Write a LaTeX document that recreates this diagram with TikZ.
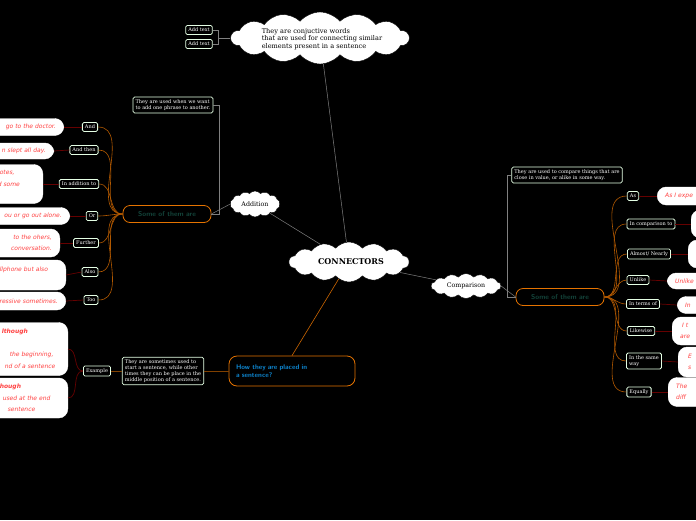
\documentclass[tikz,border=0pt]{standalone}
\usepackage{fontspec}
\setmainfont{DejaVu Serif}
\newfontfamily\comic{DejaVu Sans}
\usetikzlibrary{shapes.symbols}
\definecolor{hubtext}{RGB}{20,70,60}
\begin{document}
\begin{tikzpicture}[x=1pt,y=-1pt,
 lab/.style={draw=green!10!white,line width=0.8pt,fill=black,text=white,rounded corners=1.5pt,font=\fontsize{5}{5.8}\selectfont,inner sep=2.6pt,align=left},
 wb/.style={draw=white,fill=white,rounded corners=9pt,text=red!75!white,font=\comic\itshape\fontsize{6}{11.5}\selectfont,inner sep=2pt,inner xsep=8pt},
 wl/.style={wb,align=right,anchor=east,text width=90pt},
 wr/.style={wb,align=left,anchor=west},
 som/.style={draw=orange!90!black,line width=0.8pt,rounded corners=7pt,fill=black,text=hubtext,font=\sffamily\bfseries\fontsize{7}{8}\selectfont,minimum width=88pt,minimum height=17pt},
 cl/.style={cloud,cloud puffs=14,cloud puff arc=100,draw=black,fill=white,aspect=3,inner sep=0pt},
 fan/.style={draw=orange!70!black,line width=0.6pt},
 red/.style={draw=red!40!black,line width=0.7pt},
 gl/.style={draw=gray,line width=0.5pt}]
\useasboundingbox (0,0) rectangle (696,520);
\fill[black] (0,0) rectangle (696,520);
\clip (0,0) rectangle (696,520);
% clouds
\node[cl,minimum width=178pt,minimum height=52pt] (top) at (320,38) {};
\node[font=\fontsize{6.6}{7.2}\selectfont,align=left] at (322,39) {They are conjuctive words\\that are used for connecting similar\\elements present in a sentence};
\node[cl,minimum width=120pt,minimum height=40pt] (con) at (349,262) {};
\node[font=\bfseries\fontsize{8}{9}\selectfont] at (351,262) {CONNECTORS};
\node[cl,minimum width=50pt,minimum height=26pt] (add) at (255,204) {};
\node[font=\fontsize{6.3}{7}\selectfont] at (255,204) {Addition};
\node[cl,minimum width=70pt,minimum height=25pt] (cmp) at (466,286) {};
\node[font=\fontsize{6.3}{7}\selectfont] at (466,286) {Comparison};
% add text
\node[lab] (a1) at (199,30) {Add text};
\node[lab] (a2) at (199,44) {Add text};
\draw[gl] (top.west) -- ++(-12,0) coordinate (tj);
\draw[gl] (tj) |- (a1.east); \draw[gl] (tj) |- (a2.east);
% main links
\draw[gl] (con) -- (top);
\draw[gl] (con) -- (add);
\draw[gl] (con) -- (cmp);
% left some
\node[som] (sl) at (167,214) {Some of them are};
\draw[gl] (add.west) -- (sl.east);
\node[lab] (d1) at (173,105) {They are used when we want\\to add one phrase to another.};
\draw[gl] (sl.east) -- ++(8,0) |- (d1.east);
\foreach \n/\t/\y/\x in {l1/And/127/90, l2/And then/150/84, l3/In addition to/184/79, l4/Or/216/92, l5/Further/243/86, l6/Also/272/90, l7/Too/300/91}{
 \node[lab] (\n) at (\x,\y) {\t};
 \draw[fan] (sl.west) to[out=180,in=0] (\n.east);
}
\node[wl,minimum height=17pt] (w1) at (64,127) {go to the doctor.};
\node[wl,minimum height=16pt] (w2) at (54,151) {n slept all day.};
\node[wl,minimum height=39pt,text width=60pt,align=left] (w3) at (43,184) {\hspace*{25pt}otes,\\\hspace*{23pt}d some\\\ };
\node[wl,minimum height=17pt] (w4) at (70,216) {ou or go out alone.};
\node[wl,minimum height=28pt] (w5) at (60,243) {to the ohers,\\conversation.};
\node[wl,minimum height=30pt,text width=80pt,align=left] (w6) at (66,275) {\hspace*{22pt}llphone but also\\\ };
\node[wl,minimum height=18pt] (w7) at (66,301) {ressive sometimes.};
\foreach \i in {1,...,7}{\draw[red] (w\i.east) -- (l\i.west);}
% how placed
\node[draw=orange!90!black,line width=0.8pt,rounded corners=8pt,fill=black,text=cyan!70!blue,font=\sffamily\bfseries\fontsize{6.8}{8.5}\selectfont,minimum width=126pt,minimum height=30pt,align=left,text width=112pt] (hw) at (292,371) {How they are placed in\\a sentence?};
\draw[draw=orange!80!black,line width=0.6pt] (con) -- (hw.north);
\node[lab] (d3) at (163,371) {They are sometimes used to\\start a sentence, while other\\times they can be place in the\\middle position of a sentence.};
\draw[draw=orange!50!black,line width=0.6pt] (hw.west) -- (d3.east);
\node[lab] (ex) at (97,371) {Example};
\draw[draw=orange!50!black,line width=0.6pt] (d3.west) -- (ex.east);
\node[wl,minimum height=53pt,align=left] (w8) at (68,349) {\hspace*{32pt}\textbf{lthough}\\\ \\\hspace*{40pt}the beginning,\\\hspace*{35pt}nd of a sentence};
\node[wl,minimum height=40pt,align=left] (w9) at (68,398) {\hspace*{30pt}\textbf{hough}\\\hspace*{33pt}used at the end\\\hspace*{38pt}sentence};
\draw[red] (ex.west) to[out=180,in=0] (w8.east);
\draw[red] (ex.west) to[out=180,in=0] (w9.east);
% right
\node[som] (sr) at (560,297) {Some of them are};
\draw[gl] (cmp.east) -- (sr.west);
\node[lab] (d2) at (567,175) {They are used to compare things that are\\close in value, or alike in some way.};
\draw[gl] (sr.west) -- ++(-8,0) |- (d2.west);
\foreach \n/\t/\y/\x in {r1/As/196/633, r2/In comparison to/224/651, r3/{Almost/ Nearly}/254/649, r4/Unlike/280/638, r5/In terms of/304/643, r6/Likewise/331/641, r7/{In the same\\ way}/361/644, r8/Equally/392/639}{
 \node[lab] (\n) at (\x,\y) {\t};
 \draw[fan] (sr.east) to[out=0,in=180] (\n.west);
}
\node[wr,minimum height=18pt,text width=80pt] (v1) at (657,196) {As I expe};
\node[wr,minimum height=28pt,text width=80pt] (v2) at (691,224) {\ };
\node[wr,minimum height=28pt,text width=80pt] (v3) at (688,254) {\ };
\node[wr,minimum height=16pt,text width=80pt] (v4) at (667,281) {Unlike};
\node[wr,minimum height=17pt,text width=80pt] (v5) at (677,305) {In};
\node[wr,minimum height=28pt,text width=80pt] (v6) at (672,331) {\ I t\\are};
\node[wr,minimum height=30pt,text width=80pt] (v7) at (678,362) {\ E\\\ s};
\node[wr,minimum height=29pt,text width=80pt] (v8) at (668,392) {The\\diff};
\foreach \i in {1,...,8}{\draw[red] (r\i.east) -- (v\i.west);}
\end{tikzpicture}
\end{document}
